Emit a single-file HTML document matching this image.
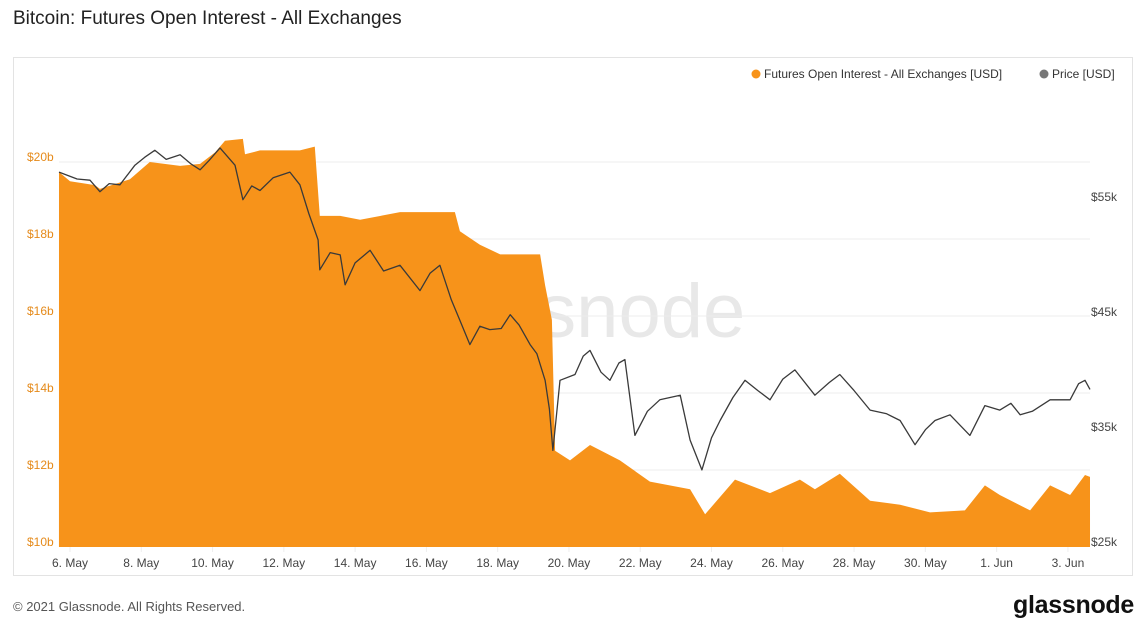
<!DOCTYPE html>
<html><head><meta charset="utf-8"><style>
body{margin:0;background:#fff;font-family:"Liberation Sans",sans-serif;}
#wrap{position:relative;width:1144px;height:626px;overflow:hidden;}
</style></head><body>
<div id="wrap">
<div style="position:absolute;left:13px;top:8px;font-size:19px;color:#222;">Bitcoin: Futures Open Interest - All Exchanges</div>
<div style="position:absolute;left:13px;top:57px;width:1120px;height:519px;border:1px solid #e3e3e3;box-sizing:border-box;"></div>
<svg id="chart" width="1144" height="626" style="position:absolute;left:0;top:0;"></svg>
<div style="position:absolute;left:13px;top:599px;font-size:13px;color:#555;">© 2021 Glassnode. All Rights Reserved.</div>
<div style="position:absolute;right:10px;top:591px;font-size:25px;font-weight:bold;color:#111;letter-spacing:-0.3px;">glassnode</div>
</div>
<script>
const oiT=[-0.31,0,0.70,0.84,1.68,2.24,3.09,3.65,4.07,4.35,4.85,4.91,5.33,6.45,6.87,7.01,7.58,8.14,9.26,10.80,10.94,11.50,12.07,13.19,13.33,13.52,13.61,14.03,14.59,15.43,16.27,17.40,17.82,18.66,19.64,20.48,20.90,21.60,22.45,23.29,24.13,25.11,25.67,26.09,26.94,27.50,28.06,28.48,28.62];
const oiV=[19.74,19.5,19.4,19.3,19.55,20.0,19.9,19.95,20.25,20.55,20.6,20.2,20.3,20.3,20.4,18.6,18.6,18.5,18.7,18.7,18.2,17.85,17.6,17.6,16.8,15.9,12.5,12.25,12.65,12.25,11.7,11.5,10.85,11.75,11.4,11.75,11.5,11.9,11.2,11.1,10.9,10.95,11.6,11.35,10.95,11.6,11.35,11.87,11.82];
const prT=[-0.31,0.20,0.56,0.84,1.10,1.40,1.82,2.10,2.38,2.70,3.09,3.40,3.65,3.90,4.21,4.63,4.85,5.10,5.33,5.70,6.17,6.45,6.70,6.96,7.01,7.30,7.58,7.72,8.00,8.42,8.80,9.26,9.82,10.10,10.38,10.70,10.94,11.22,11.50,11.78,12.10,12.35,12.60,12.91,13.10,13.33,13.45,13.55,13.75,14.17,14.40,14.59,14.90,15.15,15.40,15.57,15.85,16.20,16.55,17.12,17.40,17.73,18.00,18.24,18.60,18.94,19.30,19.64,20.00,20.34,20.90,21.30,21.60,22.00,22.45,22.90,23.29,23.71,24.00,24.27,24.69,25.25,25.67,26.09,26.40,26.66,27.00,27.50,28.06,28.30,28.48,28.62];
const prV=[57.6,57.0,56.9,55.9,56.6,56.5,58.2,58.9,59.5,58.7,59.1,58.3,57.8,58.6,59.7,58.2,55.2,56.4,56.0,57.1,57.6,56.5,54.0,51.7,49.1,50.6,50.4,47.8,49.7,50.8,49.0,49.5,47.3,48.8,49.5,46.5,44.7,42.6,44.2,43.9,44.0,45.2,44.3,42.6,41.8,39.5,37.0,33.4,39.5,40.0,41.6,42.1,40.2,39.5,41.0,41.3,34.7,36.8,37.8,38.2,34.3,31.7,34.5,36.0,38.0,39.5,38.6,37.8,39.6,40.4,38.2,39.3,40.0,38.6,36.9,36.6,36.0,33.9,35.2,36.0,36.5,34.7,37.3,36.9,37.5,36.5,36.8,37.8,37.8,39.2,39.5,38.7];
const leftTicks=[10,12,14,16,18,20];
const rightTicks=[25,35,45,55];
const xLabels=["6. May","8. May","10. May","12. May","14. May","16. May","18. May","20. May","22. May","24. May","26. May","28. May","30. May","1. Jun","3. Jun"];
const NS="http://www.w3.org/2000/svg";
const svg=document.getElementById('chart');
const X=d=>70+d*35.64;
const YL=v=>547-(v-10)*38.5;
const YR=v=>547-(v-25)*11.5;
function mk(tag,attrs,parent){const e=document.createElementNS(NS,tag);for(const k in attrs)e.setAttribute(k,attrs[k]);(parent||svg).appendChild(e);return e;}
let wm=mk('text',{x:572,y:337,'font-size':76,'text-anchor':'middle',fill:'#e8e8e8','font-family':'Liberation Sans, sans-serif'});


wm.textContent='glassnode';
leftTicks.forEach(v=>{
 if(v>10){let g=mk('line',{x1:59,x2:1090,y1:YL(v),y2:YL(v),stroke:'#ececec','stroke-width':1});
 
 }
 let t=mk('text',{x:27,y:YL(v)-1,'font-size':12,fill:'#e58a1a','font-family':'Liberation Sans, sans-serif'});
 
 
 t.textContent='$'+v+'b';
});
rightTicks.forEach(v=>{
 let t=mk('text',{x:1091,y:YR(v)-1,'font-size':12,fill:'#444','font-family':'Liberation Sans, sans-serif'});
 
 
 t.textContent='$'+v+'k';
});
let d='M'+X(oiT[0])+' 547';
oiT.forEach((t,i)=>{d+=' L'+X(t).toFixed(1)+' '+YL(oiV[i]).toFixed(1);});
d+=' L'+X(oiT[oiT.length-1])+' 547 Z';
let area=mk('path',{d:d,fill:'#f7931a'});


let pts=prT.map((t,i)=>X(t).toFixed(1)+','+YR(prV[i]).toFixed(1)).join(' ');
let pl=mk('polyline',{points:pts,fill:'none',stroke:'#3a3a3a','stroke-width':1.3,'stroke-linejoin':'round'});


xLabels.forEach((l,i)=>{
 let tk=mk('line',{x1:X(i*2),x2:X(i*2),y1:547,y2:552,stroke:'#eee'});
 
 
 let t=mk('text',{x:X(i*2),y:567,'font-size':12,fill:'#444','text-anchor':'middle','font-family':'Liberation Sans, sans-serif'});
 
 
 t.textContent=l;
});
let c1=mk('circle',{cx:756,cy:74,r:4.5,fill:'#f7931a'});


let l1=mk('text',{x:764,y:78,'font-size':12,fill:'#333','font-family':'Liberation Sans, sans-serif'});


l1.textContent='Futures Open Interest - All Exchanges [USD]';
let c2=mk('circle',{cx:1044,cy:74,r:4.5,fill:'#777'});


let l2=mk('text',{x:1052,y:78,'font-size':12,fill:'#333','font-family':'Liberation Sans, sans-serif'});


l2.textContent='Price [USD]';
</script>
</body></html>
